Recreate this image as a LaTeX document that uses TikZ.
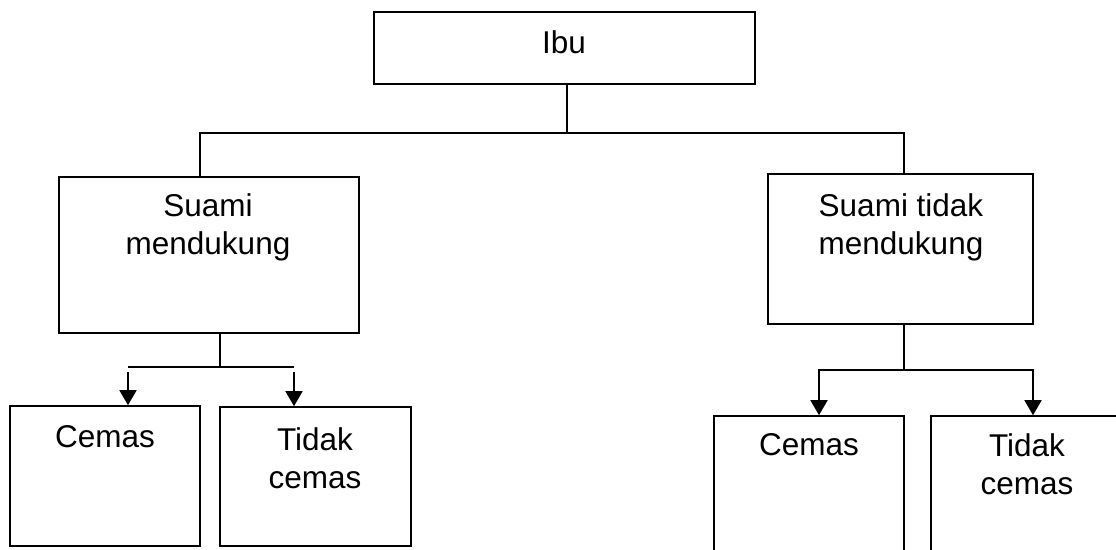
\documentclass[tikz,border=0pt]{standalone}
\usepackage{fontspec}
\setmainfont{Liberation Sans}
\usetikzlibrary{arrows.meta}
\begin{document}
\begin{tikzpicture}[x=1pt,y=-1pt,
  box/.style={draw=black,line width=1.6pt,rectangle,inner sep=0pt,fill=white},
  lbl/.style={anchor=north,inner sep=0pt,align=center,font=\fontsize{31.5}{38}\selectfont},
  conn/.style={draw=black,line width=1.6pt},
  arr/.style={conn,-{Triangle[width=17pt,length=15pt]}}]
\useasboundingbox (0,0) rectangle (1116,549);
\clip (0,0) rectangle (1116,549);
\fill[white] (0,0) rectangle (1116,549);
% boxes
\node[box,minimum width=381pt,minimum height=72pt] (ibu) at (564.5,48) {};
\node[box,minimum width=300pt,minimum height=156pt] (sm) at (209,255) {};
\node[box,minimum width=265pt,minimum height=150pt] (stm) at (900.5,249) {};
\node[box,minimum width=190pt,minimum height=140pt] (c1) at (105,476) {};
\node[box,minimum width=191pt,minimum height=139pt] (t1) at (315.5,476.5) {};
\node[box,minimum width=190pt,minimum height=184pt] (c2) at (809,508) {};
\node[box,minimum width=199pt,minimum height=184pt] (t2) at (1030.5,508) {};
% labels
\node[lbl] (ibuL) at (564,30) {Ibu};
\node[lbl] (smL) at (208,193) {Suami\\mendukung};
\node[lbl] (stmL) at (901,193) {Suami tidak\\mendukung};
\node[lbl] (c1L) at (105,425) {Cemas};
\node[lbl] (t1L) at (315,427) {Tidak\\cemas};
\node[lbl] (c2L) at (809,433) {Cemas};
\node[lbl] (t2L) at (1027,433) {Tidak\\cemas};
% top connectors
\coordinate (j0) at (567,133);
\coordinate (bl) at (200,133);
\coordinate (br) at (904,133);
\draw[conn] (ibu.south -| j0) -- (j0);
\draw[conn] (bl |- sm.north) -- (bl) -- (br) -- (br |- stm.north);
% left lower connectors
\coordinate (j1) at (220,367);
\coordinate (a1) at (128,367);
\coordinate (a2) at (294,367);
\draw[conn] (sm.south -| j1) -- (j1);
\draw[conn] (a1) -- (a2);
\draw[arr] ([yshift=-5pt]a1) -- (a1 |- c1.north);
\draw[arr] ([yshift=-5pt]a2) -- (a2 |- t1.north);
% right lower connectors
\coordinate (j2) at (904,370);
\coordinate (a3) at (819,370);
\coordinate (a4) at (1033,370);
\draw[conn] (stm.south -| j2) -- (j2);
\draw[arr] (j2) -- (a3) -- (a3 |- c2.north);
\draw[arr] (j2) -- (a4) -- (a4 |- t2.north);
\end{tikzpicture}
\end{document}
